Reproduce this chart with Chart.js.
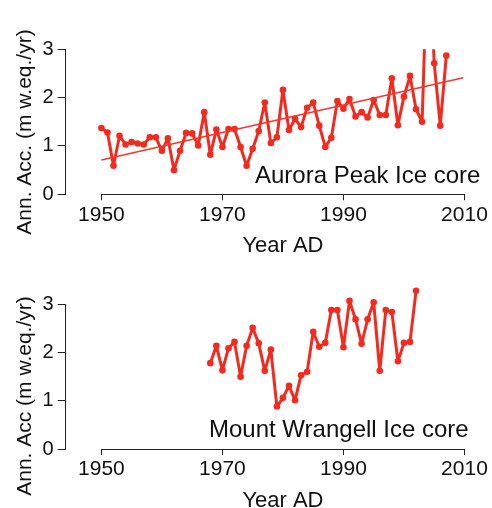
<!DOCTYPE html>
<html><head><meta charset="utf-8">
<script src="https://cdn.jsdelivr.net/npm/chart.js@4.4.0/dist/chart.umd.min.js"></script>
<style>
html,body{margin:0;padding:0;background:#fff;}
#wrap{position:relative;width:492px;height:508px;overflow:hidden;}
.pane{position:absolute;left:0;width:492px;}
</style></head><body>
<div id="wrap">
<div class="pane" style="top:0;height:255px"><canvas id="c1" width="492" height="255"></canvas></div>
<div class="pane" style="top:255px;height:253px"><canvas id="c2" width="492" height="253"></canvas></div>
</div>
<script>
// ---- data ----
const auroraYears = [1950,1951,1952,1953,1954,1955,1956,1957,1958,1959,
  1960,1961,1962,1963,1964,1965,1966,1967,1968,1969,
  1970,1971,1972,1973,1974,1975,1976,1977,1978,1979,
  1980,1981,1982,1983,1984,1985,1986,1987,1988,1989,
  1990,1991,1992,1993,1994,1995,1996,1997,1998,1999,
  2000,2001,2002,2003,2004,2005,2006,2007];
const auroraAcc = [1.37,1.28,0.59,1.21,1.03,1.08,1.05,1.03,1.18,1.18,
  0.90,1.16,0.50,0.90,1.27,1.26,1.01,1.70,0.82,1.34,
  0.98,1.35,1.35,0.98,0.59,0.94,1.31,1.90,1.06,1.18,
  2.16,1.33,1.56,1.39,1.79,1.90,1.42,0.98,1.17,1.93,
  1.77,1.97,1.61,1.70,1.59,1.95,1.64,1.64,2.40,1.43,
  2.02,2.45,1.76,1.50,5.50,2.71,1.42,2.87];
const trendYears = [1950, 2009.8];
const trendAcc = [0.71, 2.41];
const wrangellYears = [1968,1969,1970,1971,1972,1973,1974,1975,1976,1977,
  1978,1979,1980,1981,1982,1983,1984,1985,1986,1987,
  1988,1989,1990,1991,1992,1993,1994,1995,1996,1997,
  1998,1999,2000,2001,2002];
const wrangellAcc = [1.78,2.14,1.63,2.09,2.22,1.50,2.14,2.51,2.19,1.62,
  2.06,0.88,1.06,1.31,1.01,1.53,1.60,2.43,2.12,2.20,
  2.88,2.88,2.11,3.07,2.69,2.18,2.69,3.04,1.62,2.88,
  2.84,1.82,2.20,2.22,3.28];
const xTickYears = [1950,1970,1990,2010];
const yTickValues = [0,1,2,3];
const xTitle = 'Year AD';
const yTitleTop = 'Ann. Acc. (m w.eq./yr)';
const yTitleBottom = 'Ann. Acc (m w.eq./yr)';
const labelTop = 'Aurora Peak Ice core';
const labelBottom = 'Mount Wrangell Ice core';

// ---- styles ----
const FONT = "'Liberation Sans', Arial, sans-serif";
const RED = '#F42A1E';
const AXIS = '#222';

function toXY(xs, ys){ return xs.map((x,i)=>({x:x, y:ys[i]})); }

function panel(canvas, opts){
  const axisPlugin = {
    id: 'rAxes',
    afterDraw(chart){
      const ctx = chart.ctx, xs = chart.scales.x, ys = chart.scales.y;
      const ca = chart.chartArea;
      ctx.save();
      ctx.strokeStyle = AXIS; ctx.lineWidth = 1;
      const yb = Math.round(ys.getPixelForValue(0)) + 0.5;
      ctx.beginPath();
      ctx.moveTo(Math.round(xs.getPixelForValue(xTickYears[0]))+0.5, yb);
      ctx.lineTo(Math.round(xs.getPixelForValue(xTickYears[xTickYears.length-1]))+0.5, yb);
      ctx.stroke();
      const xl = Math.round(ca.left) - 0.5;
      ctx.beginPath();
      ctx.moveTo(xl, Math.round(ys.getPixelForValue(yTickValues[0]))+0.5);
      ctx.lineTo(xl, Math.round(ys.getPixelForValue(yTickValues[yTickValues.length-1]))+0.5);
      ctx.stroke();
      ctx.fillStyle = '#111';
      // x title
      ctx.font = '22px ' + FONT;
      ctx.textAlign = 'center'; ctx.textBaseline = 'alphabetic';
      ctx.fillText(xTitle, (xs.getPixelForValue(1950)+xs.getPixelForValue(2010))/2, yb + 57);
      // y title
      ctx.save();
      ctx.translate(31, opts.yTitleCenter);
      ctx.rotate(-Math.PI/2);
      ctx.font = '21px ' + FONT;
      ctx.textAlign = 'center';
      ctx.fillText(opts.yTitle, 0, 0);
      ctx.restore();
      // panel label
      ctx.font = '24px ' + FONT;
      ctx.textAlign = 'left';
      ctx.fillText(opts.label, opts.labelX, opts.labelY);
      ctx.restore();
    }
  };
  return new Chart(canvas, {
    type: 'line',
    data: { datasets: opts.datasets },
    options: {
      responsive: false, animation: false, devicePixelRatio: 1,
      layout: { padding: { top: opts.padTop, right: 13, left: 0, bottom: 0 } },
      plugins: { legend: { display: false }, tooltip: { enabled: false } },
      scales: {
        x: {
          type: 'linear', min: 1944.1, max: 2012.4,
          afterBuildTicks: s => { s.ticks = xTickYears.map(v => ({ value: v })); },
          afterFit: s => { s.height = opts.xHeight; },
          ticks: { font: { size: 21, family: FONT }, color: '#111', padding: 2, maxRotation: 0, autoSkip: false,
                   callback: v => String(v) },
          grid: { display: true, drawOnChartArea: false, drawTicks: true, tickLength: 6, color: AXIS, tickColor: AXIS },
          border: { display: false }
        },
        y: {
          min: 0, max: opts.yMax,
          afterBuildTicks: s => { s.ticks = yTickValues.map(v => ({ value: v })); },
          afterFit: s => { s.width = 65.7; },
          ticks: { font: { size: 20, family: FONT }, color: '#111', padding: 4, callback: v => String(v) },
          grid: { display: true, drawOnChartArea: false, drawTicks: true, tickLength: 8, color: AXIS, tickColor: AXIS },
          border: { display: false }
        }
      }
    },
    plugins: [axisPlugin]
  });
}

const lineStyle = { borderColor: RED, backgroundColor: RED, borderWidth: 3, borderJoinStyle: 'round', borderCapStyle: 'round',
  pointRadius: 3.3, pointBorderWidth: 0, pointBackgroundColor: RED, tension: 0 };

panel(document.getElementById('c1'), {
  padTop: 49.3, xHeight: 255 - 194.3, yMax: 3,
  yTitle: yTitleTop, yTitleCenter: 132,
  label: labelTop, labelX: 255, labelY: 182.7,
  datasets: [
    { data: toXY(trendYears, trendAcc), borderColor: '#F0382E', borderWidth: 1.5, pointRadius: 0, clip: 0 },
    Object.assign({ data: toXY(auroraYears, auroraAcc), clip: 0 }, lineStyle)
  ]
});

panel(document.getElementById('c2'), {
  padTop: 32.4, xHeight: 253 - 194, yMax: 3.35,
  yTitle: yTitleBottom, yTitleCenter: 396 - 255,
  label: labelBottom, labelX: 209, labelY: 436.7 - 255,
  datasets: [
    Object.assign({ data: toXY(wrangellYears, wrangellAcc), clip: false }, lineStyle)
  ]
});
</script>
</body></html>
